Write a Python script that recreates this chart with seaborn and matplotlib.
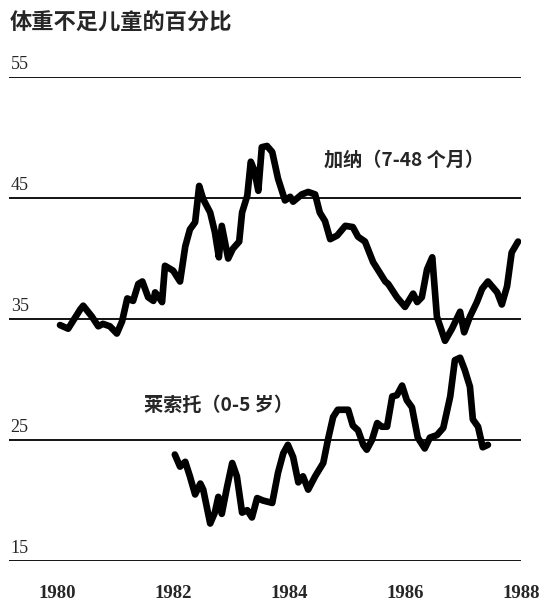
import numpy as np
import pandas as pd
import seaborn as sns
from matplotlib import pyplot as plt

# Ghana, children 7-48 months, % underweight
ghana_year = [1980.05, 1980.19, 1980.40, 1980.45, 1980.60, 1980.71, 1980.79, 1980.91,
              1981.03, 1981.12, 1981.21, 1981.31, 1981.40, 1981.47, 1981.57, 1981.66,
              1981.69, 1981.74, 1981.81, 1981.86, 1982.00, 1982.12, 1982.21, 1982.29,
              1982.38, 1982.45, 1982.52, 1982.64, 1982.72, 1982.79, 1982.84, 1982.95,
              1983.03, 1983.14, 1983.19, 1983.28, 1983.34, 1983.40, 1983.47, 1983.53,
              1983.62, 1983.71, 1983.81, 1983.93, 1984.02, 1984.07, 1984.22, 1984.33,
              1984.45, 1984.53, 1984.62, 1984.71, 1984.83, 1984.97, 1985.10, 1985.19,
              1985.31, 1985.45, 1985.66, 1985.71, 1985.86, 1986.00, 1986.14, 1986.21,
              1986.29, 1986.38, 1986.47, 1986.55, 1986.69, 1986.81, 1986.95, 1987.02,
              1987.12, 1987.24, 1987.33, 1987.43, 1987.59, 1987.67, 1987.76, 1987.84,
              1987.95]
ghana_pct = [34.5, 34.2, 35.8, 36.1, 35.2, 34.4, 34.6, 34.4,
             33.8, 34.8, 36.7, 36.5, 37.9, 38.1, 36.8, 36.5,
             37.2, 36.9, 36.4, 39.4, 39.0, 38.1, 41.0, 42.4,
             43.0, 46.0, 44.9, 43.8, 42.2, 40.1, 42.7, 40.0,
             40.8, 41.4, 43.8, 45.2, 48.0, 47.3, 45.6, 49.2,
             49.3, 48.8, 46.6, 44.8, 45.1, 44.7, 45.3, 45.5,
             45.3, 43.8, 43.1, 41.6, 41.9, 42.7, 42.6, 41.8,
             41.4, 39.7, 38.1, 37.9, 36.8, 36.0, 37.1, 36.4,
             36.8, 39.1, 40.1, 35.2, 33.2, 34.2, 35.6, 33.9,
             35.2, 36.4, 37.5, 38.1, 37.2, 36.2, 37.7, 40.5,
             41.4]

# Lesotho, children 0-5 years
lesotho_year = [1982.03, 1982.12, 1982.21, 1982.29, 1982.38, 1982.47, 1982.52, 1982.64,
                1982.72, 1982.78, 1982.84, 1982.93, 1983.02, 1983.10, 1983.19, 1983.28,
                1983.36, 1983.45, 1983.55, 1983.71, 1983.81, 1983.90, 1983.98, 1984.07,
                1984.16, 1984.24, 1984.33, 1984.45, 1984.59, 1984.67, 1984.76, 1984.84,
                1985.02, 1985.10, 1985.19, 1985.28, 1985.34, 1985.43, 1985.52, 1985.60,
                1985.69, 1985.78, 1985.86, 1985.95, 1986.03, 1986.12, 1986.22, 1986.34,
                1986.43, 1986.55, 1986.66, 1986.78, 1986.86, 1986.95, 1987.03, 1987.12,
                1987.17, 1987.26, 1987.34, 1987.43]
lesotho_pct = [23.8, 22.8, 23.2, 22.0, 20.5, 21.4, 20.9, 18.1,
               19.0, 20.3, 18.9, 21.1, 23.1, 22.0, 19.0, 19.2,
               18.6, 20.2, 20.0, 19.8, 22.3, 23.9, 24.6, 23.6,
               21.5, 22.0, 20.9, 22.0, 23.1, 25.0, 26.9, 27.5,
               27.5, 26.2, 25.8, 24.6, 24.2, 25.0, 26.4, 26.1,
               26.1, 28.6, 28.7, 29.5, 28.3, 27.7, 25.2, 24.3,
               25.2, 25.4, 26.0, 28.6, 31.6, 31.8, 30.8, 29.4,
               26.7, 26.1, 24.4, 24.6]

y_ticks = [15, 25, 35, 45, 55]
x_ticks = [1980, 1982, 1984, 1986, 1988]
title = '体重不足儿童的百分比'
ghana_label = '加纳（7-48 个月）'
lesotho_label = '莱索托（0-5 岁）'

sns.set_style("white")
plt.rcParams['font.family'] = ['Noto Sans CJK SC', 'DejaVu Sans']

df = pd.concat([
    pd.DataFrame({'year': ghana_year, 'pct': ghana_pct, 'country': 'ghana'}),
    pd.DataFrame({'year': lesotho_year, 'pct': lesotho_pct, 'country': 'lesotho'}),
], ignore_index=True)

fig = plt.figure(figsize=(5.42, 6.05), dpi=100)
ax = fig.add_axes([0.0166, 0.0727, 0.9446, 0.80])

# horizontal reference lines instead of a grid
for t in y_ticks:
    ax.axhline(t, color='black', lw=1.3, zorder=1)

sns.lineplot(ax=ax, data=df, x='year', y='pct', units='country', estimator=None,
             color='black', lw=4.8, sort=False, zorder=3)

ax.set_xlim(1979.17, 1988.0)
ax.set_ylim(15, 55)
ax.set_xticks(x_ticks)
ax.set_xticklabels([str(x) for x in x_ticks], family='Liberation Serif',
                   fontsize=13.5, fontweight='bold')
ax.tick_params(axis='x', length=0, pad=17)
ax.set_yticks([])
ax.set(xlabel='', ylabel='')
for s in ax.spines.values():
    s.set_visible(False)

for t in y_ticks:
    ax.text(1979.2, t + 0.3, str(t), family='Liberation Serif', fontsize=13,
            ha='left', va='bottom')

fig.text(0.018, 0.962, title, fontsize=16, fontweight='bold', ha='left', va='center')
ax.text(1984.6, 48.1, ghana_label, fontsize=13.8, fontweight='bold', ha='left', va='center')
ax.text(1981.5, 27.9, lesotho_label, fontsize=13.8, fontweight='bold', ha='left', va='center')

fig.savefig('out.png', dpi=100)
